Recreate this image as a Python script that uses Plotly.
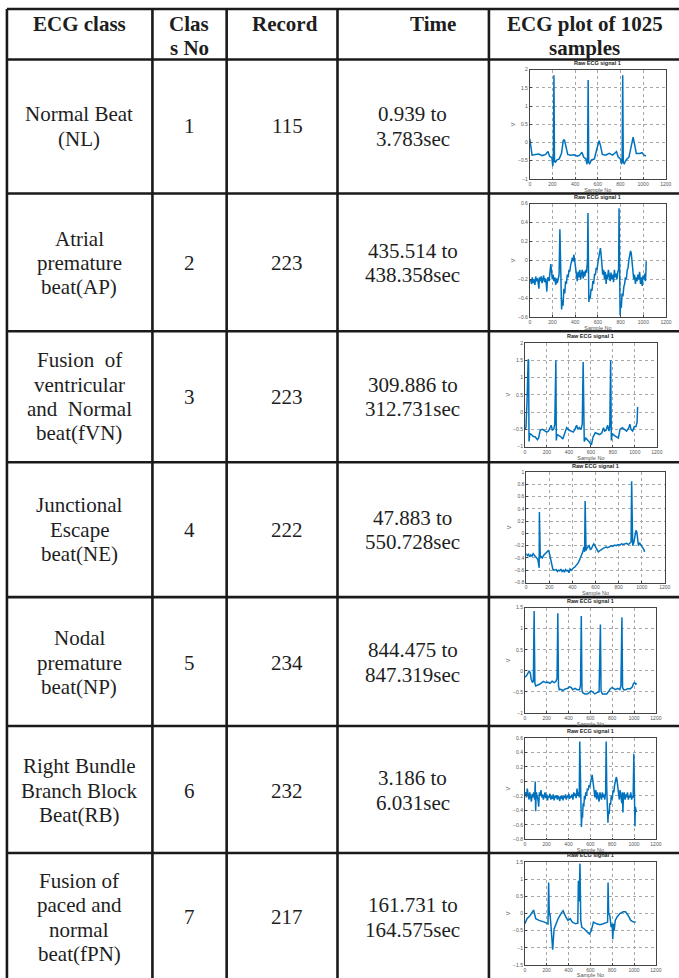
import plotly.graph_objects as go

W, H = 679, 978

# ---------------- table data ----------------
header_texts = [["ECG class"], ["Clas", "s No"], ["Record"], ["Time"], ["ECG plot of 1025", "samples"]]
class_names = [
    ["Normal Beat", "(NL)"],
    ["Atrial", "premature", "beat(AP)"],
    ["Fusion  of", "ventricular", "and  Normal", "beat(fVN)"],
    ["Junctional", "Escape", "beat(NE)"],
    ["Nodal", "premature", "beat(NP)"],
    ["Right Bundle", "Branch Block", "Beat(RB)"],
    ["Fusion of", "paced and", "normal", "beat(fPN)"],
]
class_no = ["1", "2", "3", "4", "5", "6", "7"]
records = ["115", "223", "223", "222", "234", "232", "217"]
times = [
    ["0.939 to", "3.783sec"],
    ["435.514 to", "438.358sec"],
    ["309.886 to", "312.731sec"],
    ["47.883 to", "550.728sec"],
    ["844.475 to", "847.319sec"],
    ["3.186 to", "6.031sec"],
    ["161.731 to", "164.575sec"],
]

# ---------------- ECG signals (sample no, volts) ----------------
ecg1_x = [0, 10, 20, 50, 80, 110, 140, 160, 175, 195, 203, 208, 213, 218, 225, 240, 260, 280, 295, 305, 320, 335,
          360, 390, 420, 440, 460, 475, 495, 505, 510, 515, 520, 528, 545, 570, 590, 605, 612, 625, 640, 670, 700,
          730, 765, 780, 800, 810, 815, 820, 825, 833, 850, 875, 895, 912, 925, 940, 970, 990, 1010, 1025]
ecg1_y = [0.1, -0.1, -0.35, -0.33, -0.32, -0.36, -0.33, -0.25, -0.38, -0.42, -0.65, -0.45, 1.85, -0.5, -0.55, -0.48,
          -0.45, -0.3, 0.05, 0.08, -0.15, -0.33, -0.35, -0.34, -0.38, -0.35, -0.27, -0.4, -0.45, -0.6, -0.4, 1.72,
          -0.55, -0.58, -0.48, -0.45, -0.2, 0.03, 0.05, -0.1, -0.33, -0.35, -0.3, -0.35, -0.25, -0.4, -0.45, -0.6,
          -0.4, 1.85, -0.55, -0.58, -0.48, -0.4, -0.1, 0.15, -0.05, -0.3, -0.3, -0.28, -0.35, -0.37]

ecg2_x = [0, 8, 15, 22, 30, 38, 45, 52, 60, 68, 75, 80, 85, 92, 100, 108, 115, 122, 130, 137, 145, 150, 155, 162,
          170, 178, 185, 192, 198, 205, 212, 220, 228, 235, 242, 250, 258, 265, 270, 275, 280, 287, 293, 300, 308,
          315, 322, 330, 338, 345, 352, 360, 368, 375, 382, 388, 395, 400, 410, 418, 425, 433, 440, 448, 455, 462,
          470, 478, 485, 492, 500, 508, 512, 516, 520, 526, 532, 540, 548, 555, 562, 570, 578, 585, 592, 600, 608,
          615, 622, 628, 635, 642, 650, 658, 665, 672, 678, 685, 692, 700, 708, 715, 722, 730, 738, 745, 752, 760,
          768, 775, 782, 786, 790, 795, 800, 806, 812, 820, 828, 835, 842, 850, 858, 865, 872, 880, 887, 893, 900,
          907, 915, 922, 930, 937, 945, 952, 960, 967, 975, 982, 990, 997, 1005, 1012, 1018, 1022, 1025]
ecg2_y = [-0.22, -0.2, -0.25, -0.18, -0.24, -0.2, -0.26, -0.17, -0.22, -0.19, -0.25, -0.3, -0.18, -0.22, -0.17,
          -0.24, -0.2, -0.16, -0.23, -0.19, -0.25, -0.33, -0.2, -0.18, -0.22, -0.15, -0.04, -0.12, -0.2, -0.15,
          -0.22, -0.18, -0.26, -0.19, -0.24, -0.2, -0.15, 0.33, 0.0, -0.35, -0.52, -0.42, -0.48, -0.3, -0.35,
          -0.22, -0.25, -0.15, -0.18, -0.1, -0.12, -0.05, -0.02, 0.03, -0.01, 0.06, 0.0, -0.05, -0.15, -0.22,
          -0.12, -0.18, -0.1, -0.2, -0.14, -0.1, -0.19, -0.12, -0.17, -0.1, -0.13, 0.0, 0.5, -0.1, -0.44, -0.38,
          -0.4, -0.3, -0.32, -0.22, -0.25, -0.15, -0.15, -0.08, -0.1, -0.02, 0.05, 0.11, 0.13, 0.06, -0.05, -0.15,
          -0.1, -0.2, -0.12, -0.25, -0.15, -0.2, -0.1, -0.18, -0.22, -0.13, -0.2, -0.15, -0.23, -0.1, -0.18,
          -0.14, -0.2, -0.12, -0.1, 0.55, -0.2, -0.58, -0.45, -0.5, -0.35, -0.38, -0.28, -0.25, -0.18, -0.2, -0.1,
          -0.08, 0.0, 0.04, 0.1, 0.08, -0.02, -0.12, -0.2, -0.15, -0.25, -0.18, -0.22, -0.15, -0.2, -0.12, -0.25,
          -0.18, -0.27, -0.16, -0.2, -0.14, -0.22, -0.15, -0.01]

ecg3_x = [0, 10, 20, 30, 34, 38, 45, 60, 75, 95, 115, 125, 140, 160, 180, 200, 215, 230, 240, 250, 262, 272, 282,
          286, 292, 310, 330, 345, 360, 380, 400, 420, 440, 455, 470, 482, 495, 510, 522, 530, 535, 540, 555, 570,
          590, 605, 620, 640, 660, 680, 700, 715, 725, 740, 752, 765, 772, 780, 786, 795, 815, 835, 850, 865, 885,
          905, 925, 945, 955, 965, 980, 995, 1010, 1020, 1025]
ecg3_y = [-0.5, -0.45, 0.3, 1.52, 1.5, -0.85, -0.62, -0.65, -0.7, -0.72, -0.8, -0.75, -0.52, -0.5, -0.55, -0.58,
          -0.55, -0.45, -0.38, -0.52, -0.5, -0.35, 1.5, -0.82, -0.65, -0.68, -0.72, -0.78, -0.65, -0.45, -0.52,
          -0.55, -0.58, -0.5, -0.38, -0.5, -0.45, -0.5, -0.35, 1.45, -0.7, -0.85, -0.75, -0.8, -0.88, -0.95, -0.72,
          -0.6, -0.62, -0.65, -0.6, -0.45, -0.55, -0.52, -0.38, -0.55, -0.4, 1.5, -0.82, -0.62, -0.68, -0.72,
          -0.75, -0.5, -0.45, -0.5, -0.55, -0.45, -0.35, -0.5, -0.55, -0.42, -0.42, -0.3, 0.15]

ecg4_x = [0, 10, 20, 30, 40, 50, 60, 70, 80, 90, 100, 108, 112, 114, 118, 122, 130, 140, 150, 160, 170, 180, 190,
          198, 205, 212, 220, 230, 240, 250, 260, 270, 280, 290, 300, 310, 320, 330, 340, 350, 360, 370, 380, 390,
          400, 410, 420, 430, 440, 450, 460, 470, 480, 490, 500, 506, 510, 514, 518, 525, 535, 545, 555, 565, 575,
          585, 595, 605, 615, 625, 635, 645, 660, 675, 690, 705, 720, 735, 750, 765, 780, 795, 810, 825, 840, 855,
          870, 885, 900, 908, 913, 918, 922, 932, 942, 950, 958, 965, 972, 980, 990, 1000, 1010, 1018, 1025]
ecg4_y = [-0.33, -0.36, -0.34, -0.38, -0.35, -0.37, -0.33, -0.36, -0.38, -0.4, -0.42, -0.5, -0.56, 0.35, -0.2,
          -0.4, -0.38, -0.4, -0.36, -0.34, -0.33, -0.3, -0.28, -0.3, -0.36, -0.45, -0.52, -0.58, -0.6, -0.6, -0.59,
          -0.62, -0.6, -0.61, -0.58, -0.62, -0.6, -0.63, -0.59, -0.61, -0.6, -0.64, -0.58, -0.6, -0.57, -0.56,
          -0.55, -0.53, -0.5, -0.48, -0.44, -0.4, -0.35, -0.3, -0.22, -0.3, 0.53, -0.2, -0.28, -0.24, -0.22, -0.2,
          -0.26, -0.25, -0.2, -0.17, -0.2, -0.25, -0.27, -0.3, -0.28, -0.27, -0.25, -0.24, -0.22, -0.23, -0.21,
          -0.2, -0.21, -0.19, -0.2, -0.18, -0.19, -0.17, -0.18, -0.17, -0.16, -0.18, -0.16, -0.14, 0.85, -0.05,
          -0.2, -0.15, -0.05, 0.05, 0.02, -0.15, -0.2, -0.15, -0.18, -0.2, -0.22, -0.26, -0.3]

ecg5_x = [0, 15, 30, 40, 50, 58, 70, 78, 85, 92, 100, 115, 135, 155, 170, 190, 210, 230, 250, 270, 285, 295, 302,
          308, 315, 330, 350, 370, 390, 410, 425, 440, 460, 480, 500, 510, 517, 523, 530, 550, 570, 590, 605, 620,
          640, 660, 680, 692, 698, 710, 730, 750, 770, 785, 800, 815, 830, 850, 870, 880, 889, 895, 905, 925, 945,
          965, 985, 995, 1005, 1015, 1025]
ecg5_y = [-0.15, -0.12, -0.05, 0.0, -0.05, -0.2, -0.28, -0.25, 1.42, -0.3, -0.36, -0.35, -0.32, -0.28, -0.25,
          -0.28, -0.27, -0.3, -0.25, -0.28, -0.25, -0.18, 1.37, -0.35, -0.45, -0.44, -0.47, -0.43, -0.42, -0.38,
          -0.4, -0.45, -0.42, -0.45, -0.45, -0.35, 1.3, -0.45, -0.52, -0.55, -0.55, -0.52, -0.48, -0.5, -0.55,
          -0.52, -0.5, 1.1, -0.48, -0.55, -0.55, -0.55, -0.48, -0.42, -0.4, -0.42, -0.45, -0.42, -0.45, -0.35,
          1.27, -0.4, -0.45, -0.45, -0.42, -0.43, -0.38, -0.3, -0.28, -0.32, -0.3]

ecg6_x = [0, 8, 15, 22, 30, 38, 45, 52, 60, 68, 75, 82, 90, 95, 99, 104, 112, 120, 127, 133, 140, 148, 155, 162,
          170, 178, 185, 192, 200, 208, 215, 222, 230, 238, 245, 252, 260, 268, 275, 282, 290, 298, 305, 312, 320,
          328, 335, 342, 350, 358, 365, 372, 380, 388, 395, 402, 410, 418, 425, 432, 440, 448, 455, 462, 470, 478,
          485, 492, 498, 503, 508, 513, 518, 523, 528, 534, 540, 546, 552, 558, 565, 572, 580, 588, 595, 603, 610,
          617, 622, 628, 635, 642, 650, 658, 665, 672, 680, 688, 695, 702, 710, 718, 725, 732, 740, 745, 750, 756,
          761, 766, 772, 778, 785, 792, 800, 808, 815, 822, 830, 837, 843, 850, 858, 865, 872, 880, 888, 893, 898,
          903, 910, 918, 925, 932, 940, 948, 955, 962, 970, 978, 985, 992, 998, 1003, 1008, 1012, 1018, 1025]
ecg6_y = [-0.2, -0.15, -0.22, -0.1, -0.18, -0.25, -0.15, -0.2, -0.28, -0.17, -0.22, -0.15, -0.25, 0.0, -0.41,
          -0.15, -0.2, -0.25, -0.35, -0.15, -0.2, -0.12, -0.22, -0.18, -0.25, -0.2, -0.15, -0.23, -0.18, -0.26,
          -0.2, -0.22, -0.17, -0.25, -0.2, -0.24, -0.18, -0.26, -0.2, -0.23, -0.19, -0.25, -0.2, -0.22, -0.27,
          -0.2, -0.24, -0.2, -0.26, -0.2, -0.23, -0.18, -0.25, -0.2, -0.22, -0.17, -0.24, -0.2, -0.22, -0.18,
          -0.25, -0.15, -0.2, -0.17, -0.23, -0.1, -0.2, -0.15, -0.22, 0.55, -0.05, -0.35, -0.63, -0.45, -0.5,
          -0.3, -0.35, -0.2, -0.25, -0.15, -0.2, -0.1, -0.12, -0.05, -0.08, 0.0, 0.04, 0.09, 0.02, -0.08, -0.15,
          -0.22, -0.12, -0.25, -0.15, -0.2, -0.28, -0.15, -0.2, -0.25, -0.15, -0.22, -0.18, -0.25, -0.15, 0.55,
          -0.1, -0.4, -0.57, -0.4, -0.45, -0.3, -0.32, -0.2, -0.25, -0.12, -0.15, -0.05, 0.0, 0.06, 0.03, -0.08,
          -0.15, -0.25, -0.12, -0.2, -0.3, -0.15, -0.43, -0.2, -0.15, -0.25, -0.18, -0.22, -0.15, -0.25, -0.2,
          -0.22, -0.15, -0.25, -0.2, -0.22, 0.38, -0.1, -0.62, -0.35, -0.4, -0.42]

ecg7_x = [0, 20, 50, 80, 100, 130, 180, 212, 218, 224, 230, 238, 246, 255, 268, 285, 305, 335, 350, 375, 395, 415,
          435, 465, 485, 490, 497, 505, 512, 522, 545, 575, 592, 608, 628, 658, 688, 718, 745, 758, 762, 768, 778,
          790, 800, 805, 812, 818, 828, 845, 870, 900, 922, 945, 970, 995, 1015]
ecg7_y = [-0.3, -0.15, -0.05, 0.1, -0.15, -0.2, -0.25, -0.3, 0.9, -0.05, 0.0, -0.3, -0.6, -1.05, -0.45, -0.3,
          -0.15, 0.02, 0.08, -0.1, -0.2, -0.15, -0.25, -0.3, -0.28, 0.95, 0.35, 1.45, -0.2, -0.4, -0.45, -0.55,
          -0.6, -0.5, -0.25, -0.3, -0.33, -0.3, -0.28, -0.25, 0.9, 0.0, -0.05, -0.4, -0.3, -0.75, -0.3, -0.5,
          -0.2, -0.1, 0.0, 0.05, 0.05, -0.05, -0.2, -0.25, -0.25]

ecg_x = [ecg1_x, ecg2_x, ecg3_x, ecg4_x, ecg5_x, ecg6_x, ecg7_x]
ecg_y = [ecg1_y, ecg2_y, ecg3_y, ecg4_y, ecg5_y, ecg6_y, ecg7_y]
y_ranges = [[-1, 2], [-0.6, 0.6], [-1, 2], [-0.8, 1], [-1, 1.5], [-0.8, 0.6], [-1.5, 1.5]]
y_dticks = [0.5, 0.2, 0.5, 0.2, 0.5, 0.2, 0.5]

# ---------------- layout geometry (pixels) ----------------
col_lines = [6, 153, 228, 340, 493]
row_lines = [6, 57, 192, 331, 463, 599, 729, 857]
row_centers = [124.5, 262, 397, 531, 665, 794, 922]
col_centers = [79, 190, 289, 416]
header_x = [79, 190, 287, 436, 590]
# inset axes boxes: left, right, top, bottom
boxes = [
    (534.3, 671.7, 67.3, 177.3),
    (534.3, 672.0, 202.3, 316.7),
    (529.3, 662.7, 342.7, 447.3),
    (530.7, 670.7, 473.0, 584.3),
    (529.3, 661.7, 609.7, 715.7),
    (529.3, 661.7, 741.0, 843.3),
    (529.3, 661.7, 866.0, 970.0),
]


def px(x):
    return x / W


def py(y):
    return 1 - y / H


FONT = "Liberation Serif"
TXT = "#1e1e1e"
LINE = "#1a1a1a"

fig = go.Figure()
shapes = []
annotations = []

# table grid
for x in col_lines:
    shapes.append(dict(type="line", xref="paper", yref="paper", x0=px(x), x1=px(x), y0=py(row_lines[0]),
                       y1=py(H + 10), line=dict(color=LINE, width=2.6)))
for y in row_lines:
    shapes.append(dict(type="line", xref="paper", yref="paper", x0=px(col_lines[0]), x1=px(W + 10), y0=py(y),
                       y1=py(y), line=dict(color=LINE, width=2.6)))

LS = 24.5


def add_lines(lines, xc, yc, bold=False, size=21, top=None):
    n = len(lines)
    for i, t in enumerate(lines):
        if top is not None:
            y = top + i * LS
        else:
            y = yc + (i - (n - 1) / 2) * LS
        annotations.append(dict(
            text=f"<b>{t}</b>" if bold else t, x=px(xc), y=py(y), xref="paper", yref="paper",
            xanchor="center", yanchor="middle", showarrow=False,
            font=dict(family=FONT, size=size, color=TXT)))


# header
for hx, ht in zip(header_x, header_texts):
    add_lines(ht, hx, None, bold=True, top=21)

# body
for r in range(7):
    yc = row_centers[r]
    add_lines(class_names[r], col_centers[0], yc)
    add_lines([class_no[r]], col_centers[1], yc)
    add_lines([records[r]], col_centers[2], yc)
    add_lines(times[r], col_centers[3], yc)

# inset ECG plots
layout_axes = {}
for i in range(7):
    n = "" if i == 0 else str(i + 1)
    l, r, t, b = boxes[i]
    fig.add_trace(go.Scatter(x=ecg_x[i], y=ecg_y[i], mode="lines",
                             line=dict(color="#0072BD", width=1.5),
                             xaxis="x" + n, yaxis="y" + n, showlegend=False, hoverinfo="skip"))
    common = dict(showgrid=True, gridcolor="#a8a8a8", griddash="dot", gridwidth=0.6,
                  showline=True, mirror=True, linecolor="#444", linewidth=0.8,
                  ticks="inside", ticklen=2, tickwidth=0.6, tickcolor="#444",
                  tickfont=dict(family="Liberation Sans", size=5, color="#555"),
                  zeroline=False, fixedrange=True)
    layout_axes["xaxis" + n] = dict(domain=[px(l), px(r)], anchor="y" + n, range=[0, 1200], dtick=200, tick0=0,
                                    title=dict(text="Sample No", standoff=1,
                                               font=dict(family="Liberation Sans", size=5.5, color="#555")),
                                    **common)
    layout_axes["yaxis" + n] = dict(domain=[py(b), py(t)], anchor="x" + n, range=y_ranges[i], dtick=y_dticks[i],
                                    tick0=0,
                                    title=dict(text="V", standoff=2,
                                               font=dict(family="Liberation Sans", size=5.5, color="#555")),
                                    **common)
    annotations.append(dict(text="<b>Raw ECG signal 1</b>", x=px((l + r) / 2), y=py(t - 1.5), xref="paper",
                            yref="paper", xanchor="center", yanchor="bottom", showarrow=False,
                            font=dict(family="Liberation Sans", size=5.5, color="#222")))

fig.update_layout(
    width=W, height=H, autosize=False,
    margin=dict(l=0, r=0, t=0, b=0, pad=0),
    paper_bgcolor="white", plot_bgcolor="white",
    shapes=shapes, annotations=annotations, showlegend=False,
    **layout_axes,
)

fig.write_html("out.html", config={"displayModeBar": False},
               post_script="document.body.style.margin='0px';document.body.style.overflow='hidden';")
